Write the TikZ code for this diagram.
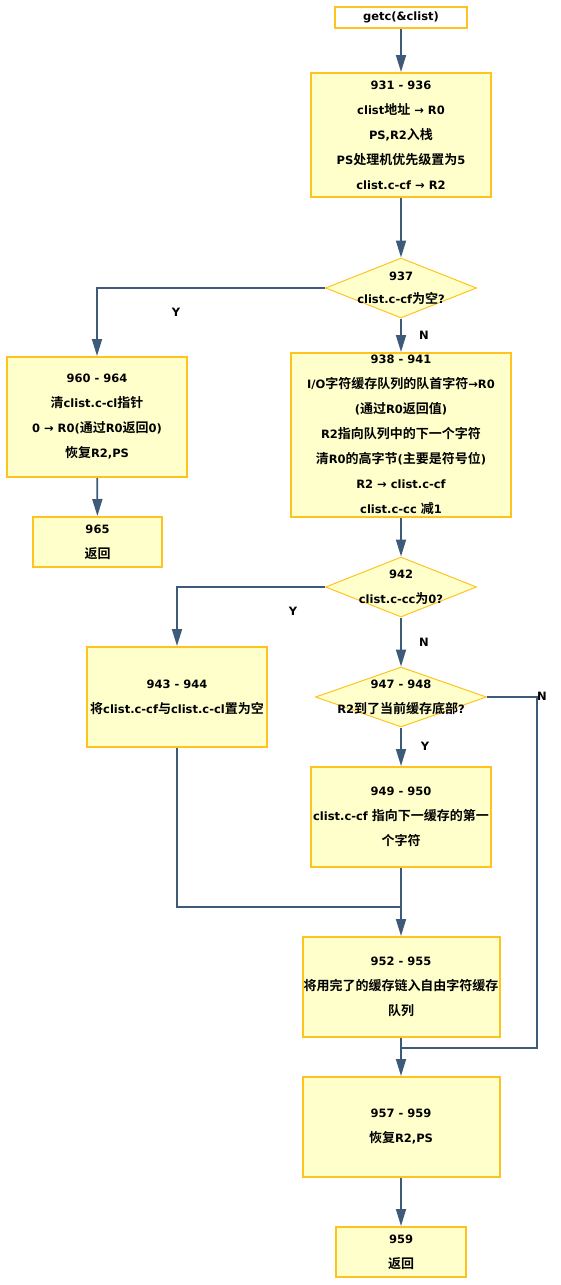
\documentclass[tikz,border=0pt]{standalone}
\usepackage{fontspec}
\setmainfont{DejaVu Sans}
\newfontfamily\zhfont{Noto Sans CJK SC}[Scale=1.13,BoldFont={Noto Sans CJK SC Bold}]
\newcommand{\zh}[1]{{\zhfont #1}}
\usetikzlibrary{positioning,arrows.meta,shapes.geometric}
\definecolor{boxfill}{HTML}{FFFFCC}
\definecolor{boxline}{HTML}{FFC31F}
\definecolor{flowline}{HTML}{3D5A78}

\begin{document}
\begin{tikzpicture}[x=1pt,y=-1pt,
every node/.style={font=\fontsize{11.5}{25}\selectfont\bfseries,align=center,inner sep=0pt},
box/.style={draw=boxline,fill=boxfill,line width=2pt,rectangle},
decision/.style={draw=boxline,fill=boxfill,line width=1pt,diamond,minimum width=#1,minimum height=60pt},
flow/.style={draw=flowline,line width=1.8pt,->},
lbl/.style={font=\fontsize{11.5}{13}\selectfont\bfseries},
>={Triangle[width=10pt,length=17pt]}]
\useasboundingbox (0,0) rectangle (560,1285);
\node (getc) [box,minimum width=132pt,minimum height=21pt,fill=white] at (401,17.5) {getc(\&clist)};
\node (b931) [box,minimum width=180pt,minimum height=124pt] at (401,135) {931 - 936\\clist\zh{地址} → R0\\PS,R2\zh{入栈}\\PS\zh{处理机优先级置为}5\\clist.c-cf → R2};
\node (d937) [decision=151pt,label={[align=center]center:937\\[-2pt]clist.c-cf\zh{为空}?}] at (401,288) {};
\node (b960) [box,minimum width=180pt,minimum height=120pt] at (97,417) {960 - 964\\\zh{清}clist.c-cl\zh{指针}\\0 → R0(\zh{通过}R0\zh{返回}0)\\\zh{恢复}R2,PS};
\node (r965) [box,minimum width=129pt,minimum height=50pt] at (97.5,542) {965\\\zh{返回}};
\node (b938) [box,minimum width=220pt,minimum height=164pt] at (401,435) {938 - 941\\I/O\zh{字符缓存队列的队首字符}→R0\\(\zh{通过}R0\zh{返回值})\\R2\zh{指向队列中的下一个字符}\\\zh{清}R0\zh{的高字节}(\zh{主要是符号位})\\R2 → clist.c-cf\\clist.c-cc \zh{减}1};
\node (d942) [decision=151pt,label={[align=center]center:942\\clist.c-cc\zh{为}0?}] at (401,587) {};
\node (b943) [box,minimum width=180pt,minimum height=100pt] at (177,697) {943 - 944\\\zh{将}clist.c-cf\zh{与}clist.c-cl\zh{置为空}};
\node (d947) [decision=171pt,label={[align=center]center:947 - 948\\R2\zh{到了当前缓存底部}?}] at (401,697) {};
\node (b949) [box,minimum width=180pt,minimum height=100pt] at (401,817) {949 - 950\\clist.c-cf \zh{指向下一缓存的第一}\\\zh{个字符}};
\node (b952) [box,minimum width=197pt,minimum height=100pt] at (401,987) {952 - 955\\\zh{将用完了的缓存链入自由字符缓存}\\\zh{队列}};
\node (b957) [box,minimum width=197pt,minimum height=100pt] at (401,1127) {957 - 959\\\zh{恢复}R2,PS};
\node (r959) [box,minimum width=130pt,minimum height=50pt] at (401,1252) {959\\\zh{返回}};
\coordinate (j1) at (401,907);
\coordinate (j2) at (401,1048);
\draw[flow] (getc) -- (b931);
\draw[flow] (b931) -- (d937);
\draw[flow] (d937.west) -| (b960.north);
\draw[flow] (d937) -- (b938);
\draw[flow] (b960) -- (r965);
\draw[flow] (b938) -- (d942);
\draw[flow] (d942.west) -| (b943.north);
\draw[flow] (d942) -- (d947);
\draw[flow] (d947) -- (b949);
\draw[flow] (b949) -- (b952);
\draw[flow,-] (b943.south) |- (j1);
\draw[flow,-] (d947.east) -- ++(50,0) |- (j2);
\draw[flow] (b952) -- (b957);
\draw[flow] (b957) -- (r959);
\node (y937) [lbl] at (176,312) {Y};
\node (n937) [lbl] at (424,335) {N};
\node (y942) [lbl] at (293,611) {Y};
\node (n942) [lbl] at (424,642) {N};
\node (y947) [lbl] at (425,746) {Y};
\node (n947) [lbl] at (542,696) {N};
\end{tikzpicture}
\end{document}
